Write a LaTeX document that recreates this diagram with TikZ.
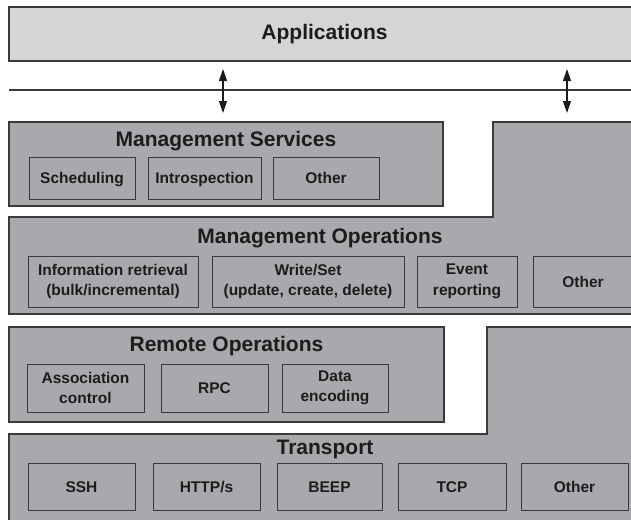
\documentclass[tikz,border=0pt]{standalone}
\usepackage{fontspec}
\setmainfont{Liberation Sans}
\usetikzlibrary{arrows.meta}
\definecolor{appfill}{HTML}{D4D5D7}
\definecolor{layerfill}{HTML}{A8A9AC}
\definecolor{edge}{HTML}{3A3A3A}
\definecolor{ink}{HTML}{1E1B1C}
\tikzset{
  layer/.style={draw=edge, line width=1.3pt, fill=layerfill},
  appbox/.style={draw=edge, line width=1.3pt, fill=appfill, inner sep=0pt, text=ink,
    font=\bfseries\fontsize{21}{24}\selectfont},
  title/.style={inner sep=0pt, text=ink, font=\bfseries\fontsize{21}{24}\selectfont},
  subbox/.style={draw=edge, line width=1pt, fill=layerfill, inner sep=0pt, text=ink,
    align=center, font=\bfseries\fontsize{15.5}{20.5}\selectfont},
  oneline/.style={text height=12.5pt, text depth=1pt},
  dblarrow/.style={line width=1.2pt, draw=ink,
    {Triangle[width=8pt,length=12pt]}-{Triangle[width=8pt,length=12pt]}},
}
\begin{document}
\begin{tikzpicture}[x=1pt,y=-1pt]
\useasboundingbox (0,0) rectangle (631,519);
\path[clip] (0,0) rectangle (631,519);
\fill[white] (0,0) rectangle (631,519);
% Applications
\node[appbox, minimum width=631, minimum height=54] (apps) at (324.5,34) {Applications};
% separator line
\coordinate (lineL) at (9,90);
\coordinate (lineR) at (645,90);
\draw[draw=edge, line width=1.2pt] (lineL) -- (lineR);
% arrows
\coordinate (a1t) at (223,69);
\coordinate (a1b) at (223,113);
\coordinate (a2t) at (567,69);
\coordinate (a2b) at (567,113);
\draw[dblarrow] (a1t) -- (a1b);
\draw[dblarrow] (a2t) -- (a2b);
% Management Services
\node[layer, inner sep=0pt, minimum width=434, minimum height=84] (ms) at (226,164) {};
\node[title] (mstitle) at (226,141) {Management Services};
\node[subbox, oneline, minimum width=106, minimum height=42] (sched) at (82,178) {Scheduling};
\node[subbox, oneline, minimum width=113, minimum height=42] (intro) at (204.5,178) {Introspection};
\node[subbox, oneline, minimum width=106, minimum height=42] (msother) at (326,178) {Other};
% Management Operations (L-shape)
\draw[layer] (9,217) -- (493,217) -- (493,122) -- (645,122) -- (645,314) -- (9,314) -- cycle;
\node[title] (motitle) at (320,238) {Management Operations};
\node[subbox, minimum width=170, minimum height=51] (info) at (113,281.5) {Information retrieval\\(bulk/incremental)};
\node[subbox, minimum width=192, minimum height=51] (write) at (308,281.5) {Write/Set\\(update, create, delete)};
\node[subbox, minimum width=100, minimum height=51] (event) at (467,281.5) {Event\\reporting};
\node[subbox, oneline, minimum width=100, minimum height=51] (moother) at (583,281.5) {Other};
% Remote Operations
\node[layer, inner sep=0pt, minimum width=435, minimum height=95] (ro) at (226.5,374.5) {};
\node[title] (rotitle) at (226.5,346) {Remote Operations};
\node[subbox, minimum width=117, minimum height=48] (assoc) at (85.5,388) {Association\\control};
\node[subbox, oneline, minimum width=107, minimum height=48] (rpc) at (214.5,388) {RPC};
\node[subbox, minimum width=106, minimum height=48] (data) at (335,388) {Data\\encoding};
% Transport (L-shape)
\draw[layer] (9,434) -- (487,434) -- (487,327) -- (645,327) -- (645,530) -- (9,530) -- cycle;
\node[title] (trtitle) at (325,449) {Transport};
\node[subbox, oneline, minimum width=107, minimum height=47] (ssh) at (81.5,486.5) {SSH};
\node[subbox, oneline, minimum width=107, minimum height=47] (http) at (206.5,486.5) {HTTP/s};
\node[subbox, oneline, minimum width=105, minimum height=47] (beep) at (329.5,486.5) {BEEP};
\node[subbox, oneline, minimum width=108, minimum height=47] (tcp) at (452,486.5) {TCP};
\node[subbox, oneline, minimum width=107, minimum height=47] (trother) at (574.5,486.5) {Other};
\end{tikzpicture}
\end{document}
